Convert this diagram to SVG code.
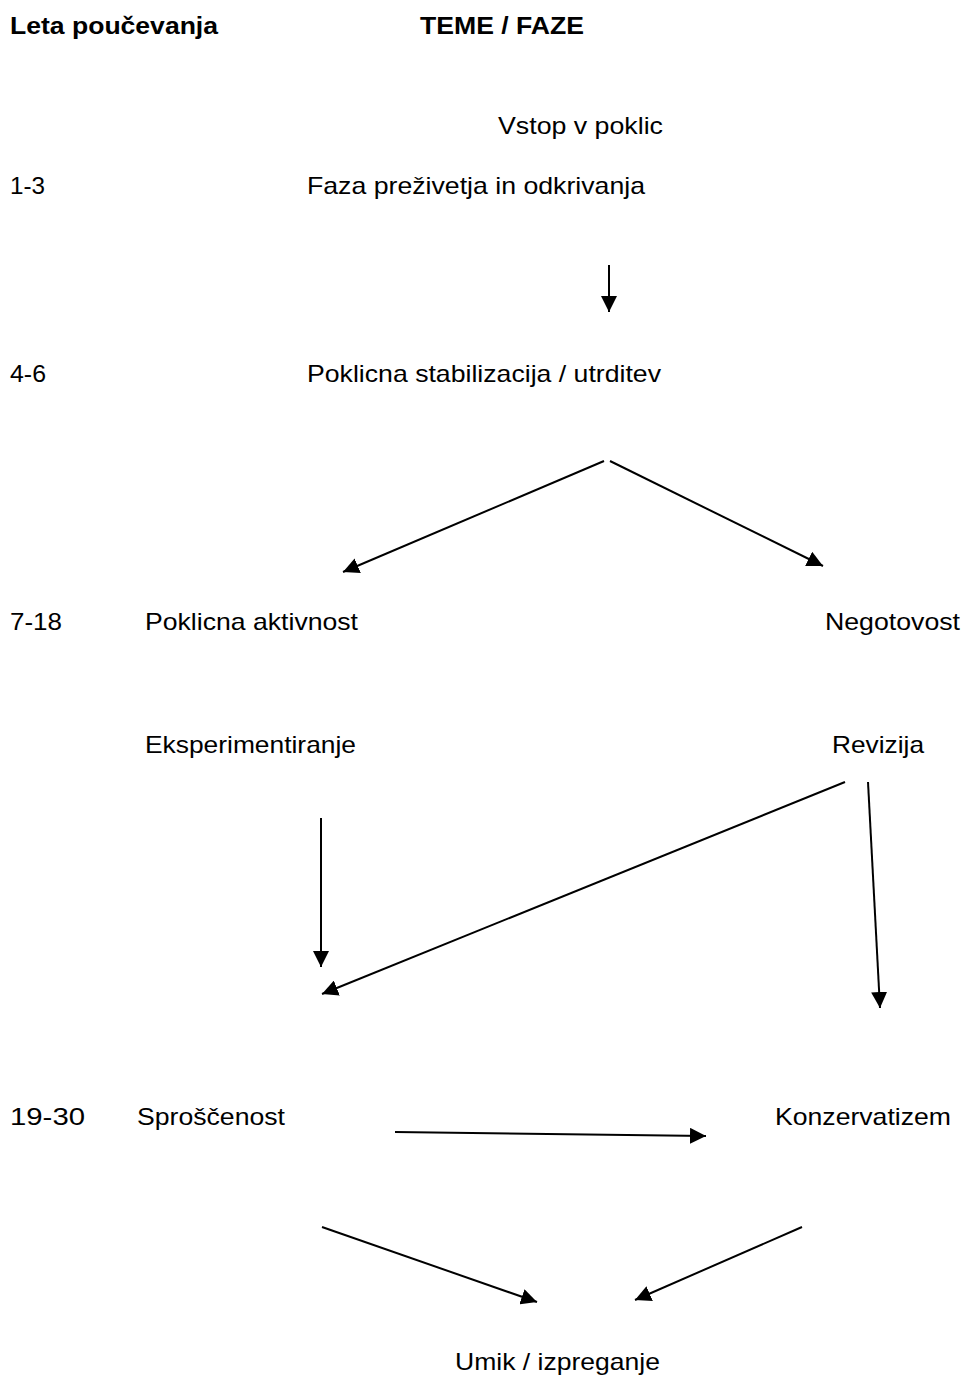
<svg xmlns="http://www.w3.org/2000/svg" width="963" height="1378" viewBox="0 0 963 1378">
<style>
text{font-family:"Liberation Sans",Arial,sans-serif;font-size:24px;fill:#000}
.b{font-weight:bold}
</style>
<defs>
<marker id="ah" markerWidth="16" markerHeight="16" refX="16" refY="8" orient="auto" markerUnits="userSpaceOnUse" viewBox="0 0 16 16">
<path d="M0,0 L16,8 L0,16 z" fill="#000"/>
</marker>
</defs>
<rect width="963" height="1378" fill="#fff"/>
<g id="header">
<text class="b" x="10" y="34" textLength="208" lengthAdjust="spacingAndGlyphs">Leta poučevanja</text>
<text class="b" x="420" y="34" textLength="164" lengthAdjust="spacingAndGlyphs">TEME / FAZE</text>
</g>
<g id="years">
<text x="10" y="194" textLength="35" lengthAdjust="spacingAndGlyphs">1-3</text>
<text x="10" y="382" textLength="36" lengthAdjust="spacingAndGlyphs">4-6</text>
<text x="10" y="630" textLength="52" lengthAdjust="spacingAndGlyphs">7-18</text>
<text x="10" y="1125" textLength="75" lengthAdjust="spacingAndGlyphs">19-30</text>
</g>
<g id="n-vstop"><text x="498" y="134" textLength="165" lengthAdjust="spacingAndGlyphs">Vstop v poklic</text></g>
<g id="n-faza"><text x="307" y="194" textLength="338" lengthAdjust="spacingAndGlyphs">Faza preživetja in odkrivanja</text></g>
<g id="n-stabilizacija"><text x="307" y="382" textLength="354" lengthAdjust="spacingAndGlyphs">Poklicna stabilizacija / utrditev</text></g>
<g id="n-aktivnost"><text x="145" y="630" textLength="213" lengthAdjust="spacingAndGlyphs">Poklicna aktivnost</text></g>
<g id="n-negotovost"><text x="825" y="630" textLength="135" lengthAdjust="spacingAndGlyphs">Negotovost</text></g>
<g id="n-eksperimentiranje"><text x="145" y="753" textLength="211" lengthAdjust="spacingAndGlyphs">Eksperimentiranje</text></g>
<g id="n-revizija"><text x="832" y="753" textLength="92" lengthAdjust="spacingAndGlyphs">Revizija</text></g>
<g id="n-sproscenost"><text x="137" y="1125" textLength="148" lengthAdjust="spacingAndGlyphs">Sproščenost</text></g>
<g id="n-konzervatizem"><text x="775" y="1125" textLength="176" lengthAdjust="spacingAndGlyphs">Konzervatizem</text></g>
<g id="n-umik"><text x="455" y="1370" textLength="205" lengthAdjust="spacingAndGlyphs">Umik / izpreganje</text></g>
<g id="connectors" stroke="#000" stroke-width="2" fill="none">
<line x1="609" y1="265" x2="609" y2="312" marker-end="url(#ah)"/>
<line x1="604" y1="461" x2="343" y2="572" marker-end="url(#ah)"/>
<line x1="610" y1="461" x2="823" y2="566" marker-end="url(#ah)"/>
<line x1="321" y1="818" x2="321" y2="967" marker-end="url(#ah)"/>
<line x1="845" y1="782" x2="322" y2="994" marker-end="url(#ah)"/>
<line x1="868" y1="782" x2="880" y2="1008" marker-end="url(#ah)"/>
<line x1="395" y1="1132" x2="706" y2="1136" marker-end="url(#ah)"/>
<line x1="322" y1="1227" x2="537" y2="1302" marker-end="url(#ah)"/>
<line x1="802" y1="1227" x2="635" y2="1300" marker-end="url(#ah)"/>
</g>
</svg>
